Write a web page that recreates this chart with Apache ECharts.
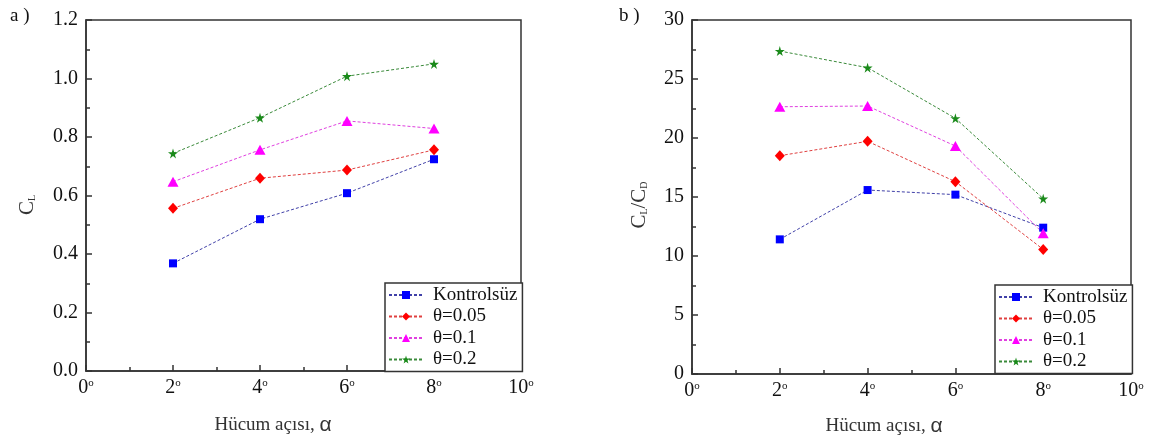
<!DOCTYPE html>
<html>
<head>
<meta charset="utf-8">
<script src="https://cdn.jsdelivr.net/npm/echarts@6/dist/echarts.min.js"></script>
<style>
  html, body { margin: 0; padding: 0; background: #fff; }
  #chart { width: 1157px; height: 437px; }
</style>
</head>
<body>
<div id="chart"></div>
<script>
// Angle of attack (degrees)
var angles = [2, 4, 6, 8];

// Lift coefficient C_L
var clKontrolsuz = [0.368, 0.519, 0.608, 0.724];
var cl005 = [0.556, 0.659, 0.687, 0.756];
var cl01 = [0.647, 0.756, 0.855, 0.829];
var cl02 = [0.744, 0.866, 1.008, 1.050];

// Lift-to-drag ratio C_L/C_D
var ldKontrolsuz = [11.41, 15.59, 15.20, 12.40];
var ld005 = [18.50, 19.72, 16.30, 10.56];
var ld01 = [22.65, 22.71, 19.32, 11.92];
var ld02 = [27.37, 25.96, 21.67, 14.86];

var seriesNames = ['Kontrolsüz', 'θ=0.05', 'θ=0.1', 'θ=0.2'];

// Tick labels
var xTickLabels = ['0', '2', '4', '6', '8', '10'];
var yTickLabelsA = ['0.0', '0.2', '0.4', '0.6', '0.8', '1.0', '1.2'];
var yTickLabelsB = ['0', '5', '10', '15', '20', '25', '30'];

var SERIF = '"Liberation Serif", "Times New Roman", serif';
var SANS = '"Liberation Sans", Arial, sans-serif';
var AXIS = '#333';
var TXT = '#111';

var STAR = 'path://M50,0 L61,35 L98,35 L68,57 L79,91 L50,70 L21,91 L32,57 L2,35 L39,35 Z';
var markers = [
  { color: '#0000ff', line: '#4040a8', symbol: 'rect', size: 8 },
  { color: '#ff0000', line: '#e04040', symbol: 'diamond', size: [10, 11] },
  { color: '#ff00ff', line: '#e040e0', symbol: 'triangle', size: [11, 10] },
  { color: '#1a8a1a', line: '#3a8a3a', symbol: STAR, size: 10 }
];

function pairs(xs, ys) {
  return xs.map(function (x, i) { return [x, ys[i]]; });
}

function makeSeries(values, gridIdx) {
  return values.map(function (vals, i) {
    var m = markers[i];
    return {
      name: seriesNames[i],
      type: 'line',
      xAxisIndex: gridIdx,
      yAxisIndex: gridIdx,
      data: pairs(angles, vals),
      symbol: m.symbol,
      symbolSize: m.size,
      showAllSymbol: true,
      itemStyle: { color: m.color },
      lineStyle: { color: m.line, width: 1, type: [3, 2] },
      emphasis: { disabled: true },
      animation: false,
      z: 3
    };
  });
}

var degreeRich = {
  n: { fontFamily: SERIF, fontSize: 20, color: TXT },
  d: { fontFamily: SERIF, fontSize: 11, color: TXT, verticalAlign: 'top', padding: [0, 0, 9, 0] }
};

function xAxisDef(gridIdx) {
  return {
    gridIndex: gridIdx,
    type: 'value',
    min: 0, max: 10, interval: 2,
    axisLine: { show: true, lineStyle: { color: AXIS, width: 1.5 } },
    axisTick: { show: true, inside: true, length: 6, lineStyle: { color: AXIS, width: 1.5 } },
    minorTick: { show: true, splitNumber: 2, length: 4, lineStyle: { color: AXIS, width: 1.5 } },
    splitLine: { show: false },
    axisLabel: {
      margin: 7,
      formatter: function (v, idx) {
        return '{n|' + xTickLabels[idx] + '}{d|o}';
      },
      rich: degreeRich
    }
  };
}

function yAxisDef(gridIdx, max, interval, labels) {
  return {
    gridIndex: gridIdx,
    type: 'value',
    min: 0, max: max, interval: interval,
    axisLine: { show: true, lineStyle: { color: AXIS, width: 1.5 } },
    axisTick: { show: true, inside: true, length: 6, lineStyle: { color: AXIS, width: 1.5 } },
    minorTick: { show: true, splitNumber: 2, length: 4, lineStyle: { color: AXIS, width: 1.5 } },
    splitLine: { show: false },
    axisLabel: {
      margin: 8,
      fontFamily: SERIF, fontSize: 20, color: TXT,
      formatter: function (v, idx) { return labels[idx]; }
    }
  };
}

function legendDef(left, top) {
  return {
    data: seriesNames,
    orient: 'vertical',
    left: left, top: top,
    backgroundColor: '#fff',
    borderColor: AXIS, borderWidth: 1.5, borderRadius: 0,
    padding: [2, 5, 2, 3],
    itemWidth: 34, itemHeight: 10, itemGap: 1.5,
    selectedMode: false,
    textStyle: { fontFamily: SERIF, fontSize: 19, color: TXT, lineHeight: 20, padding: [0, 0, 0, 5] }
  };
}

var titleRich = {
  t: { fontFamily: SERIF, fontSize: 19, fill: '#333' },
  g: { fontFamily: SANS, fontSize: 21, fill: '#333' }
};

var option = {
  backgroundColor: '#fff',
  animation: false,
  grid: [
    { left: 86, top: 20, width: 435, height: 351, show: true, borderColor: AXIS, borderWidth: 1.5, backgroundColor: 'transparent' },
    { left: 692, top: 20, width: 439, height: 354, show: true, borderColor: AXIS, borderWidth: 1.5, backgroundColor: 'transparent' }
  ],
  xAxis: [xAxisDef(0), xAxisDef(1)],
  yAxis: [
    yAxisDef(0, 1.2, 0.2, yTickLabelsA),
    yAxisDef(1, 30, 5, yTickLabelsB)
  ],
  legend: [legendDef(385, 283), legendDef(995, 285)],
  series: makeSeries([clKontrolsuz, cl005, cl01, cl02], 0)
    .concat(makeSeries([ldKontrolsuz, ld005, ld01, ld02], 1)),
  graphic: [
    { type: 'text', left: 10, top: 7, style: { text: 'a )', font: '19px ' + SERIF, fill: TXT } },
    { type: 'text', left: 619, top: 7, style: { text: 'b )', font: '19px ' + SERIF, fill: TXT } },
    {
      type: 'text', x: 273, y: 425,
      style: { text: '{t|Hücum açısı, }{g|α}', rich: titleRich, align: 'center', verticalAlign: 'middle' }
    },
    {
      type: 'text', x: 884, y: 426,
      style: { text: '{t|Hücum açısı, }{g|α}', rich: titleRich, align: 'center', verticalAlign: 'middle' }
    },
    {
      type: 'text', x: 27, y: 205, rotation: Math.PI / 2,
      style: {
        text: '{c|C}{s|L}', align: 'center', verticalAlign: 'middle',
        rich: {
          c: { fontFamily: SERIF, fontSize: 21, fill: '#333' },
          s: { fontFamily: SERIF, fontSize: 10, fill: '#333', verticalAlign: 'bottom' }
        }
      }
    },
    {
      type: 'text', x: 639, y: 205, rotation: Math.PI / 2,
      style: {
        text: '{c|C}{s|L}{c|/C}{s|D}', align: 'center', verticalAlign: 'middle',
        rich: {
          c: { fontFamily: SERIF, fontSize: 21, fill: '#333' },
          s: { fontFamily: SERIF, fontSize: 10, fill: '#333', verticalAlign: 'bottom' }
        }
      }
    }
  ]
};

var chart = echarts.init(document.getElementById('chart'), null, { renderer: 'canvas' });
chart.setOption(option);
</script>
</body>
</html>
